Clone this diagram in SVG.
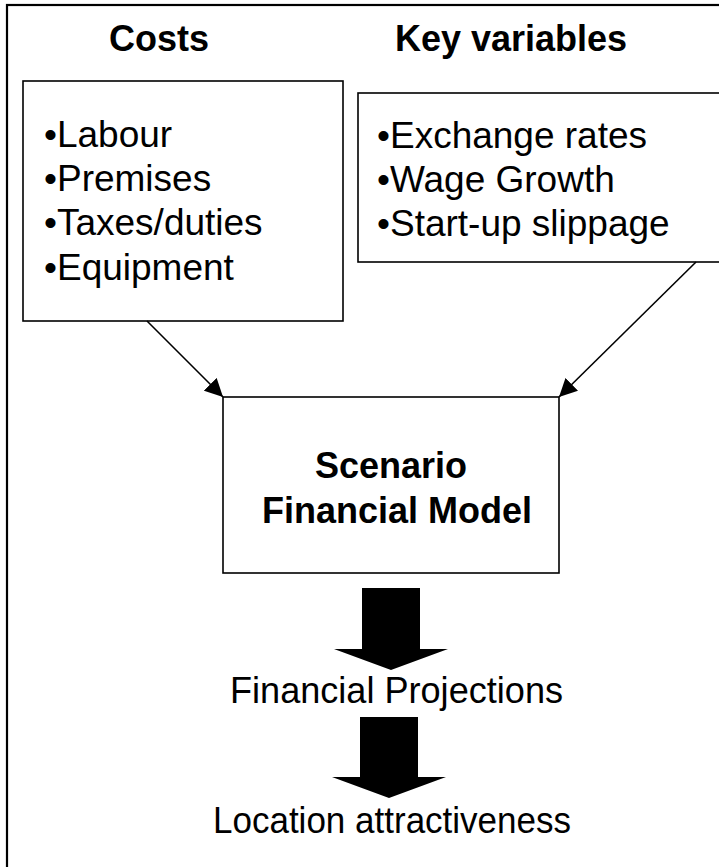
<svg xmlns="http://www.w3.org/2000/svg" width="719" height="867" viewBox="0 0 719 867">
  <defs>
    <marker id="head" viewBox="0 0 10 10" refX="10" refY="5" markerWidth="18" markerHeight="18" markerUnits="userSpaceOnUse" orient="auto">
      <path d="M0,0 L10,5 L0,10 z" fill="#000"/>
    </marker>
    <style>
      .box { fill: #fff; stroke: #000; stroke-width: 1.6; }
      .frame { fill: #fff; stroke: #000; stroke-width: 2.2; }
      .title { font-family: "Liberation Sans", Arial, sans-serif; font-weight: bold; font-size: 36px; fill: #000; }
      .txt { font-family: "Liberation Sans", Arial, sans-serif; font-size: 37px; fill: #000; }
      .link { stroke: #000; stroke-width: 1.6; fill: none; marker-end: url(#head); }
      .block { fill: #000; }
    </style>
  </defs>

  <!-- outer frame -->
  <rect class="frame" x="7" y="5" width="722" height="872"/>

  <!-- column headings -->
  <text class="title" x="159" y="51" text-anchor="middle">Costs</text>
  <text class="title" x="511" y="51" text-anchor="middle">Key variables</text>

  <g id="costs">
    <rect class="box" x="23" y="81" width="320" height="240"/>
    <text class="txt" x="44" y="147">•Labour</text>
    <text class="txt" x="44" y="191">•Premises</text>
    <text class="txt" x="44" y="235">•Taxes/duties</text>
    <text class="txt" x="44" y="280">•Equipment</text>
  </g>

  <g id="key-variables">
    <rect class="box" x="358" y="93" width="362" height="169"/>
    <text class="txt" x="377" y="148">•Exchange rates</text>
    <text class="txt" x="377" y="192">•Wage Growth</text>
    <text class="txt" x="377" y="236">•Start-up slippage</text>
  </g>

  <g id="model">
    <rect class="box" x="223" y="397" width="336" height="176"/>
    <text class="title" x="391" y="478" text-anchor="middle">Scenario</text>
    <text class="title" x="397" y="523" text-anchor="middle">Financial Model</text>
  </g>

  <g id="projections">
    <text class="txt" x="230" y="703" font-size="36" textLength="333" lengthAdjust="spacingAndGlyphs">Financial Projections</text>
  </g>

  <g id="attractiveness">
    <text class="txt" x="213" y="833" font-size="35" textLength="358" lengthAdjust="spacingAndGlyphs">Location attractiveness</text>
  </g>

  <g id="connectors">
    <line class="link" x1="147" y1="321" x2="223" y2="397"/>
    <line class="link" x1="696" y1="262" x2="559" y2="397"/>
    <polygon class="block" points="362,588 420,588 420,649 448,649 391,670 334,649 362,649"/>
    <polygon class="block" points="360,717 418,717 418,777 446,777 389,798 332,777 360,777"/>
  </g>
</svg>
